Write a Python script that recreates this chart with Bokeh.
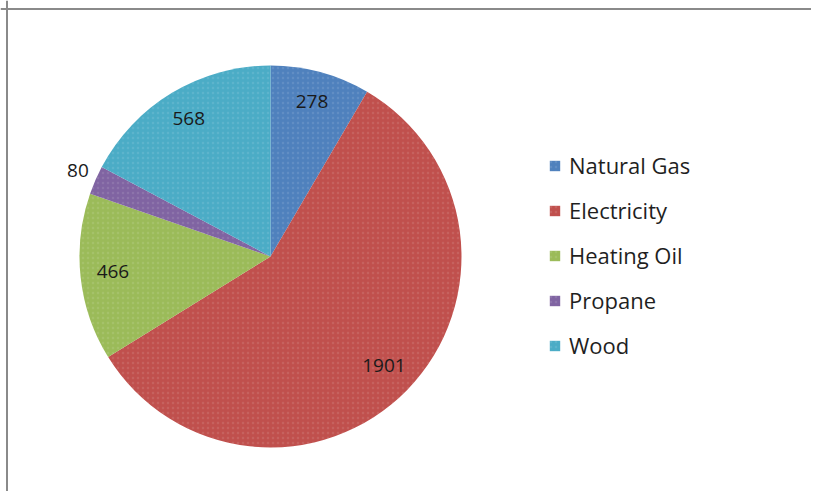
import math
from bokeh.plotting import figure
from bokeh.models import ColumnDataSource, Range1d, Legend, LegendItem, Span
from bokeh.core.properties import value
from bokeh.embed import file_html
from bokeh.resources import INLINE

categories = ["Natural Gas", "Electricity", "Heating Oil", "Propane", "Wood"]
values = [278, 1901, 466, 80, 568]
colors = ["#4F81BD", "#C0504D", "#9BBB59", "#8064A2", "#4BACC6"]

W, H = 811, 491
CX, CY = 270, H - 256   # pie centre in figure data units (= pixels)
R = 191                 # radius in pixels

total = sum(values)
starts, ends, lx, ly, labels = [], [], [], [], []
cum = 0.0
for v in values:
    a0 = math.pi / 2 - 2 * math.pi * cum / total
    cum += v
    a1 = math.pi / 2 - 2 * math.pi * cum / total
    starts.append(a0)
    ends.append(a1)
    mid = (a0 + a1) / 2
    frac = v / total
    rr = R * 0.83 if frac > 0.05 else R + 19
    lx.append(CX + rr * math.cos(mid))
    ly.append(CY + rr * math.sin(mid) + 2)
    labels.append(str(v))

src = ColumnDataSource(dict(cat=categories, val=values, color=colors,
                            start=starts, end=ends))
lsrc = ColumnDataSource(dict(x=lx, y=ly, text=labels))

p = figure(width=W, height=H, output_backend="svg", toolbar_location=None,
           x_range=Range1d(0, W), y_range=Range1d(0, H), min_border=0,
           tools="")
p.axis.visible = False
p.grid.visible = False
p.outline_line_color = None
p.background_fill_color = "white"
p.border_fill_color = "white"

r = p.wedge(x=CX, y=CY, radius=R, radius_units="screen",
            start_angle="start", end_angle="end", direction="clock",
            fill_color="color", line_color=None, source=src,
            hatch_pattern="dot", hatch_color="white", hatch_alpha=0.1,
            hatch_scale=5)

p.text(x="x", y="y", text="text", source=lsrc, text_align="center",
       text_baseline="middle", text_font=value("Open Sans"),
       text_font_size="19px", text_color="#1a1a1a")

items = [LegendItem(label=c, renderers=[r], index=i) for i, c in enumerate(categories)]
legend = Legend(items=items, location=(548, 131), orientation="vertical",
                glyph_width=13, glyph_height=13, label_height=30, spacing=15,
                label_standoff=8, padding=0, margin=0,
                border_line_color=None, background_fill_alpha=0,
                label_text_font="Open Sans", label_text_font_size="22px",
                label_text_color="#1f1f1f")
p.add_layout(legend, "center")

p.add_layout(Span(location=6.5, dimension="height", line_color="#8a8a8a", line_width=2))
p.add_layout(Span(location=H - 8.5, dimension="width", line_color="#8a8a8a", line_width=2))

open("out.html", "w").write(file_html(p, INLINE))
